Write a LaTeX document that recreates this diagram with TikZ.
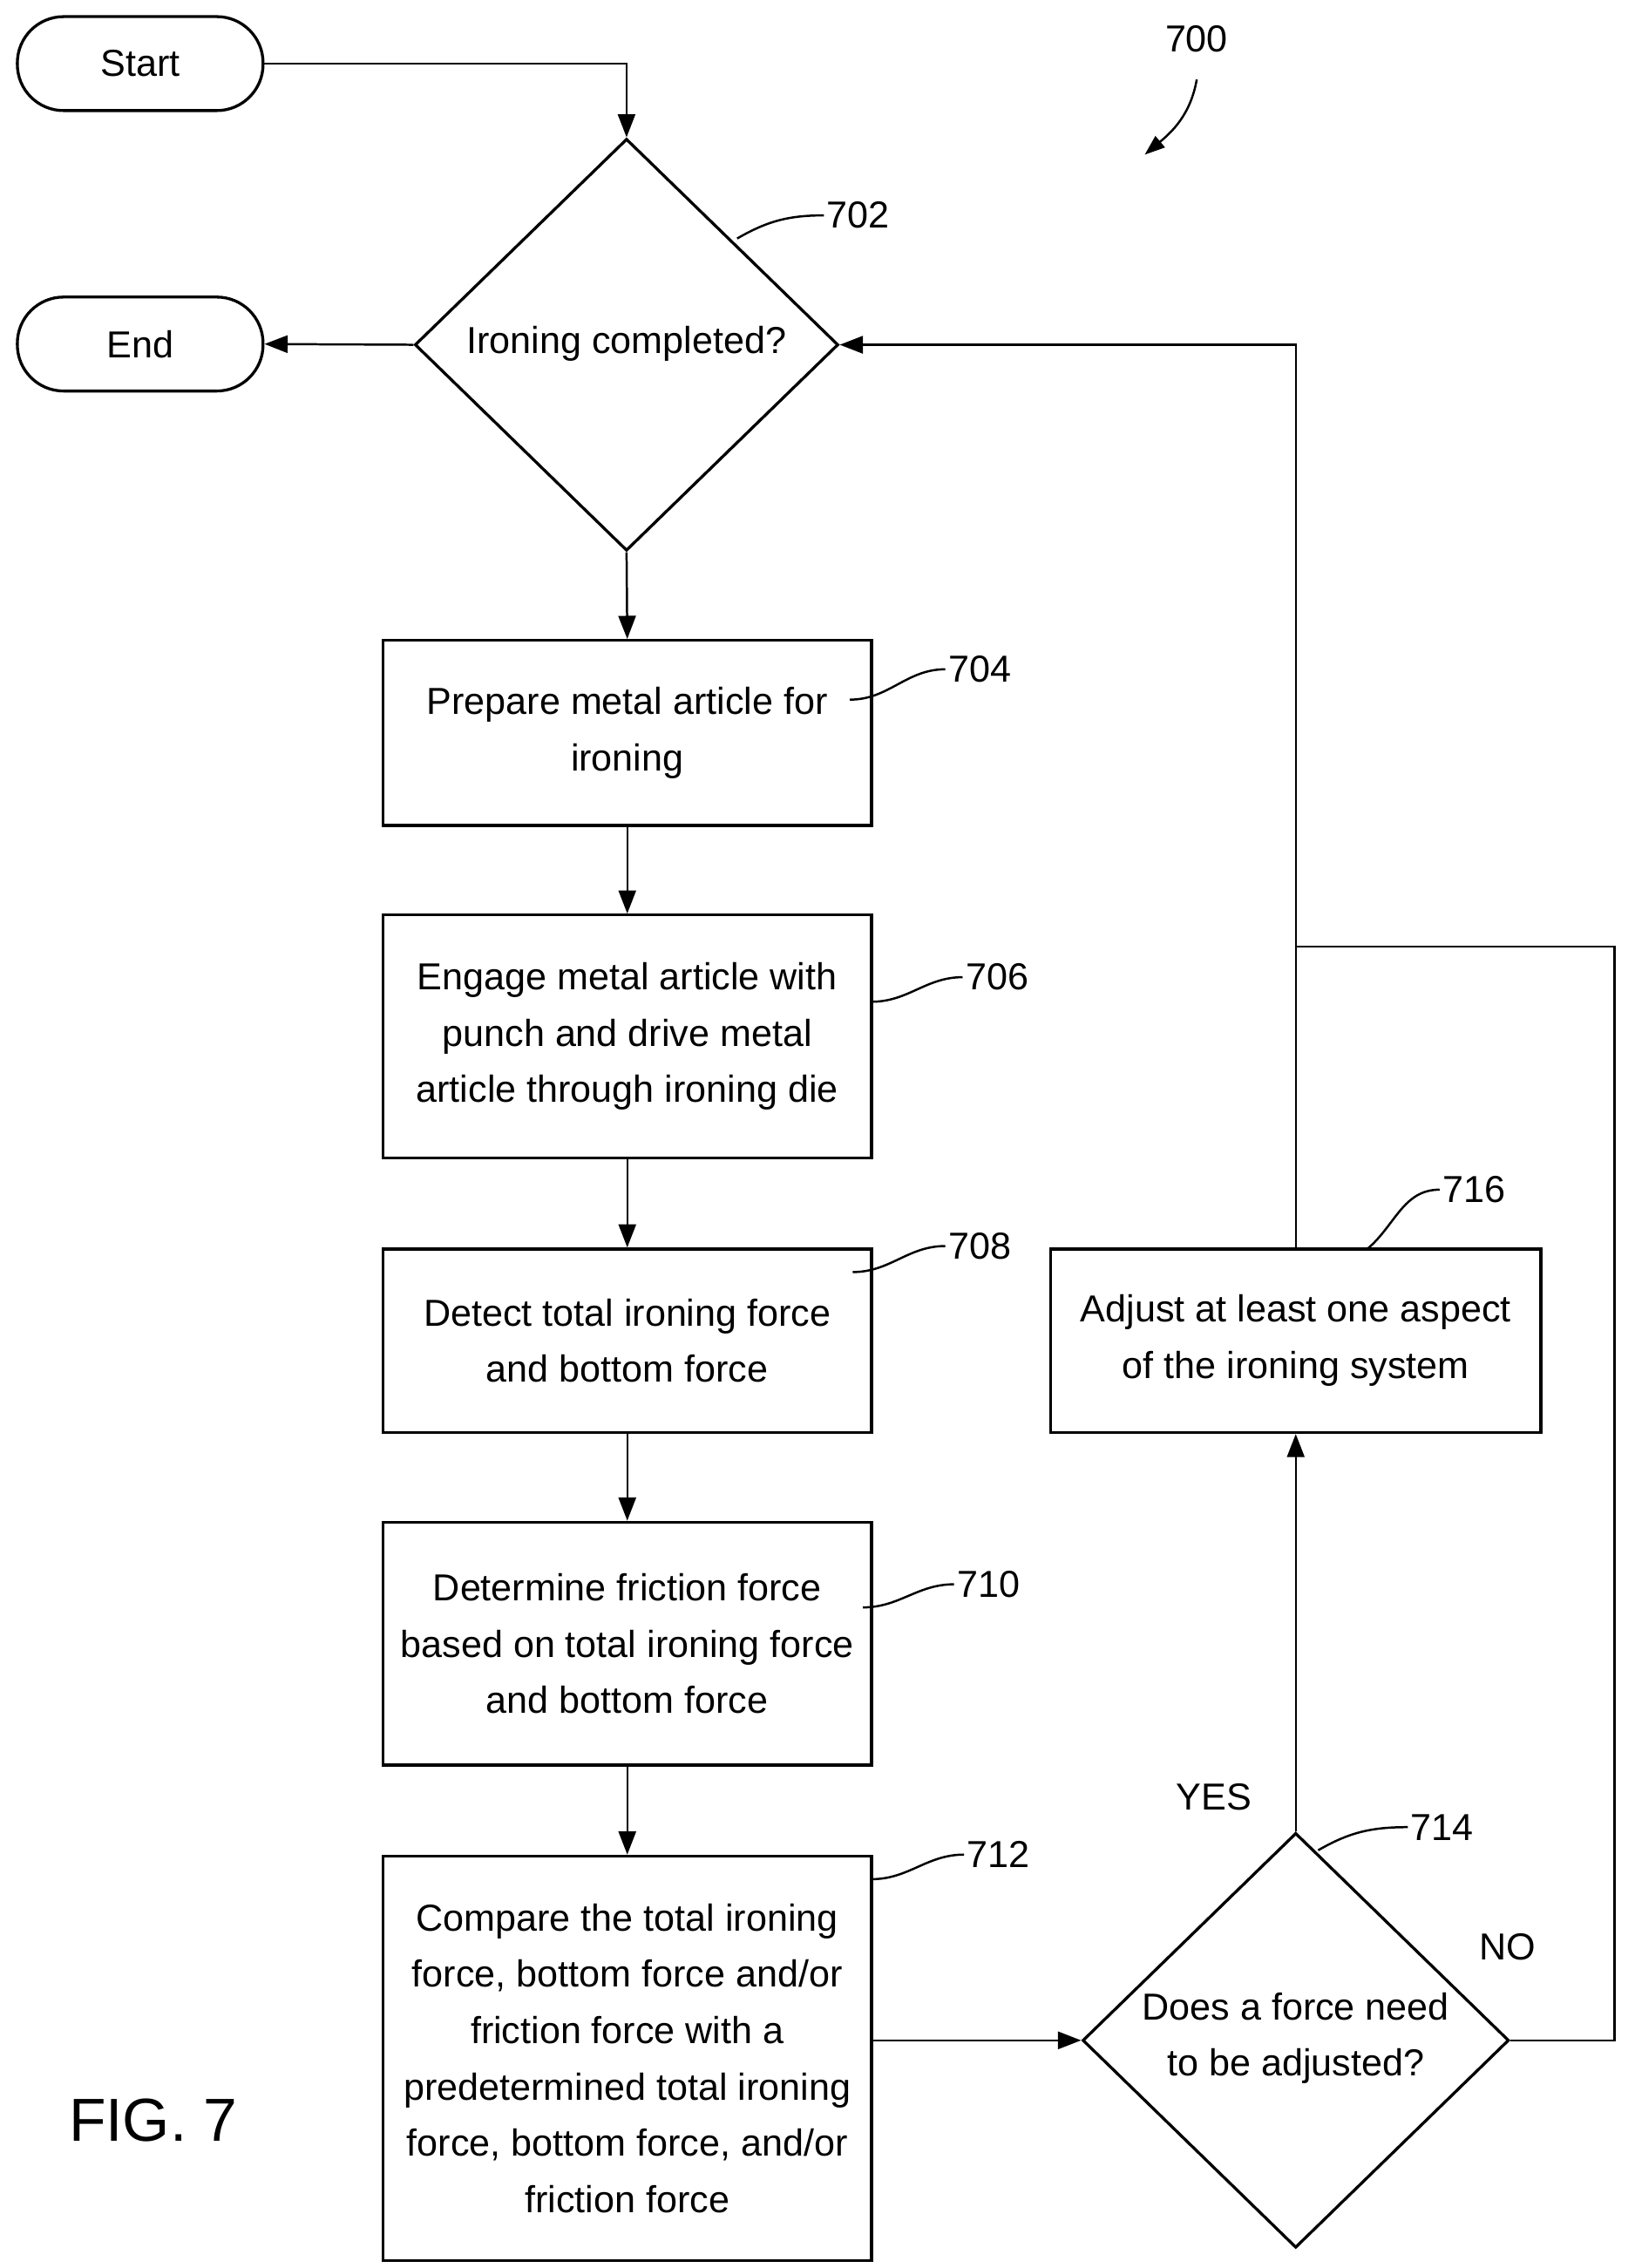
\documentclass[tikz,border=0pt]{standalone}
\usepackage{fontspec}
\setmainfont{Liberation Sans}
\usetikzlibrary{shapes.geometric,arrows.meta}
\begin{document}
\begin{tikzpicture}[x=1pt,y=1pt,
  every node/.style={font=\fontsize{26}{39}\selectfont},
  box/.style={draw,line width=2pt,align=center,inner sep=0pt},
  term/.style={draw,line width=2pt,rounded corners=32pt,minimum width=170pt,minimum height=65pt,inner sep=0pt},
  line/.style={line width=1.5pt},
  arr/.style={line width=1.5pt,-{Triangle[length=16pt,width=12pt]}},
  lab/.style={anchor=west,inner sep=2pt}]
\useasboundingbox (0,0) rectangle (1131,-1569);
\node[term] (start) at (97,-44) {Start};
\node[term] (end) at (97,-238) {End};
\node[draw,line width=2pt,diamond,minimum width=293pt,minimum height=285pt,inner sep=0pt] (d702) at (433.5,-238.5) {};
\node at (433.5,-238) {Ironing completed?};
\draw[box] (265,-443) rectangle (603,-571); \coordinate (b704) at (434,-507);
\node[box,draw=none,minimum width=338pt,minimum height=128pt] (n704) at (434,-507) {Prepare metal article for\\ironing};
\node[box,minimum width=338pt,minimum height=168pt] (n706) at (434,-717) {Engage metal article with\\punch and drive metal\\article through ironing die};
\node[box,minimum width=338pt,minimum height=127pt] (n708) at (434,-927.5) {Detect total ironing force\\and bottom force};
\node[box,minimum width=338pt,minimum height=168pt] (n710) at (434,-1137) {Determine friction force\\based on total ironing force\\and bottom force};
\node[box,minimum width=338pt,minimum height=280pt] (n712) at (434,-1424) {Compare the total ironing\\force, bottom force and/or\\friction force with a\\predetermined total ironing\\force, bottom force, and/or\\friction force};
\node[draw,line width=2pt,diamond,minimum width=295pt,minimum height=287pt,inner sep=0pt] (d714) at (896.5,-1411.5) {};
\node[align=center] at (896.5,-1410) {Does a force need\\to be adjusted?};
\node[box,minimum width=339pt,minimum height=127pt] (n716) at (896.5,-927.5) {Adjust at least one aspect\\of the ironing system};
% connectors
\draw[arr] (start.east) -- (433.5,-44) -- (d702.north);
\draw[arr] (d702.west) -- (end.east);
\draw[arr] (d702.south) -- (n704.north);
\draw[arr] (n704.south) -- (n706.north);
\draw[arr] (n706.south) -- (n708.north);
\draw[arr] (n708.south) -- (n710.north);
\draw[arr] (n710.south) -- (n712.north);
\draw[arr] (n712.east |- d714.west) ++(0,0) -- (d714.west);
\draw[arr] (d714.north) -- (n716.south);
\coordinate (j) at (896.5,-655);
\draw[arr] (n716.north) -- (896.5,-238.5) -- (d702.east);
\draw[line] (d714.east) -- (1117,-1411.5) -- (1117,-655) -- (j);
\node (yes) at (840,-1243) {YES};
\node (no) at (1043,-1347) {NO};
% reference labels
\node[lab] (l700) at (804,-27) {700};
\draw[arr,line width=1.5pt,-{Triangle[length=14pt,width=10pt]}] (828,-55) to[out=-100,in=40] (792,-107);
\node[lab] (l702) at (570,-149) {702};
\draw[line] (510,-165) to[out=30,in=180] (l702.west);
\node[lab] (l704) at (654,-463) {704};
\draw[line] (588,-484) to[out=0,in=180] (l704.west);
\node[lab] (l706) at (666,-676) {706};
\draw[line] (603,-693) to[out=0,in=180] (l706.west);
\node[lab] (l708) at (654,-862) {708};
\draw[line] (590,-880) to[out=0,in=180] (l708.west);
\node[lab] (l710) at (660,-1096) {710};
\draw[line] (597,-1112) to[out=0,in=180] (l710.west);
\node[lab] (l712) at (667,-1283) {712};
\draw[line] (603,-1300) to[out=0,in=180] (l712.west);
\node[lab] (l714) at (974,-1264) {714};
\draw[line] (912,-1280) to[out=30,in=180] (l714.west);
\node[lab] (l716) at (996,-823) {716};
\draw[line] (946,-864) to[out=40,in=180] (l716.west);
\node[font=\fontsize{42}{50}\selectfont] (fig) at (106,-1467) {FIG. 7};
\end{tikzpicture}
\end{document}
